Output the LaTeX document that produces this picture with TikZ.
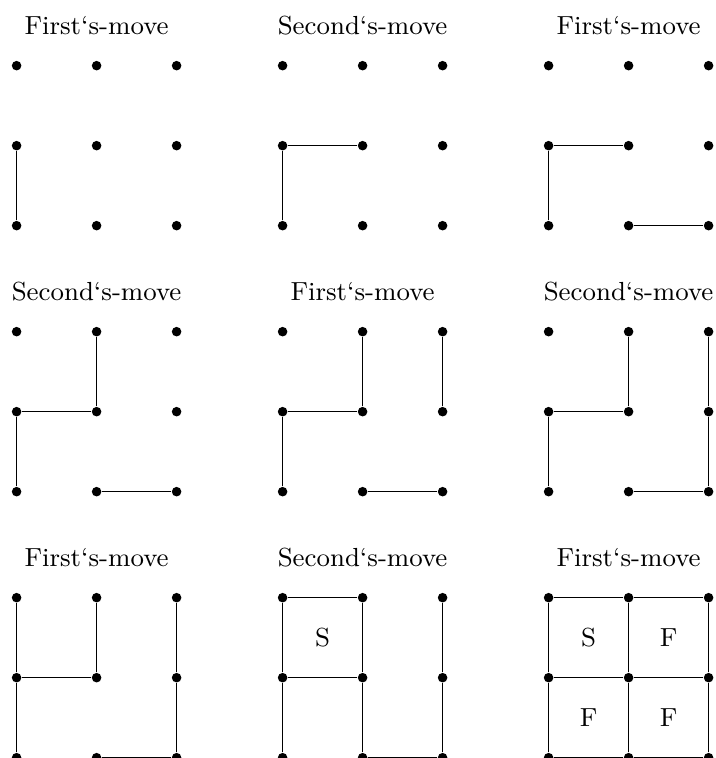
\documentclass[tikz,border=0pt]{standalone}
\tikzset{
  dot/.style={circle,fill=black,inner sep=0pt,minimum size=3.4pt},
  edge/.style={line width=0.55pt},
  title/.style={anchor=base,font=\fontsize{9.3}{11}\selectfont},
  cell/.style={font=\fontsize{9.3}{11}\selectfont}
}
\begin{document}
\begin{tikzpicture}[x=1cm,y=1cm]
\useasboundingbox (0,0) rectangle (8.9375,9.475);
\foreach \k/\c/\r/\t in {1/0/2/First,2/1/2/Second,3/2/2/First,
                         4/0/1/Second,5/1/1/First,6/2/1/Second,
                         7/0/0/First,8/1/0/Second,9/2/0/First}{
  \foreach \i in {0,1,2}{
    \foreach \j in {0,1,2}{
      \node[dot] (P\k-\i\j) at ({0.2075+3.325*\c+\i},{0.004+3.325*\r+\j}) {};
    }
  }
  \node[title] (T\k) at ({0.2075+3.325*\c+1},{0.004+3.325*\r+2.384}) {\t`s-move};
}
% panel 1
\draw[edge] (P1-00) -- (P1-01);
% panel 2
\draw[edge] (P2-00) -- (P2-01) -- (P2-11);
% panel 3
\draw[edge] (P3-00) -- (P3-01) -- (P3-11);
\draw[edge] (P3-10) -- (P3-20);
% panel 4
\draw[edge] (P4-00) -- (P4-01) -- (P4-11) -- (P4-12);
\draw[edge] (P4-10) -- (P4-20);
% panel 5
\draw[edge] (P5-00) -- (P5-01) -- (P5-11) -- (P5-12);
\draw[edge] (P5-10) -- (P5-20);
\draw[edge] (P5-21) -- (P5-22);
% panel 6
\draw[edge] (P6-00) -- (P6-01) -- (P6-11) -- (P6-12);
\draw[edge] (P6-10) -- (P6-20) -- (P6-21) -- (P6-22);
% panel 7
\draw[edge] (P7-00) -- (P7-01) -- (P7-11) -- (P7-12);
\draw[edge] (P7-01) -- (P7-02);
\draw[edge] (P7-10) -- (P7-20) -- (P7-21) -- (P7-22);
% panel 8
\draw[edge] (P8-00) -- (P8-01) -- (P8-02) -- (P8-12) -- (P8-11) -- (P8-10) -- (P8-20) -- (P8-21) -- (P8-22);
\draw[edge] (P8-01) -- (P8-11);
\node[cell] (S8) at ({0.2075+3.325+0.5},{0.004+1.5}) {S};
% panel 9
\draw[edge] (P9-00) -- (P9-01) -- (P9-02);
\draw[edge] (P9-10) -- (P9-11) -- (P9-12);
\draw[edge] (P9-20) -- (P9-21) -- (P9-22);
\draw[edge] (P9-00) -- (P9-10) -- (P9-20);
\draw[edge] (P9-01) -- (P9-11) -- (P9-21);
\draw[edge] (P9-02) -- (P9-12) -- (P9-22);
\node[cell] (S9) at ({0.2075+6.65+0.5},{0.004+1.5}) {S};
\node[cell] (F9a) at ({0.2075+6.65+1.5},{0.004+1.5}) {F};
\node[cell] (F9b) at ({0.2075+6.65+0.5},{0.004+0.5}) {F};
\node[cell] (F9c) at ({0.2075+6.65+1.5},{0.004+0.5}) {F};
\end{tikzpicture}
\end{document}
